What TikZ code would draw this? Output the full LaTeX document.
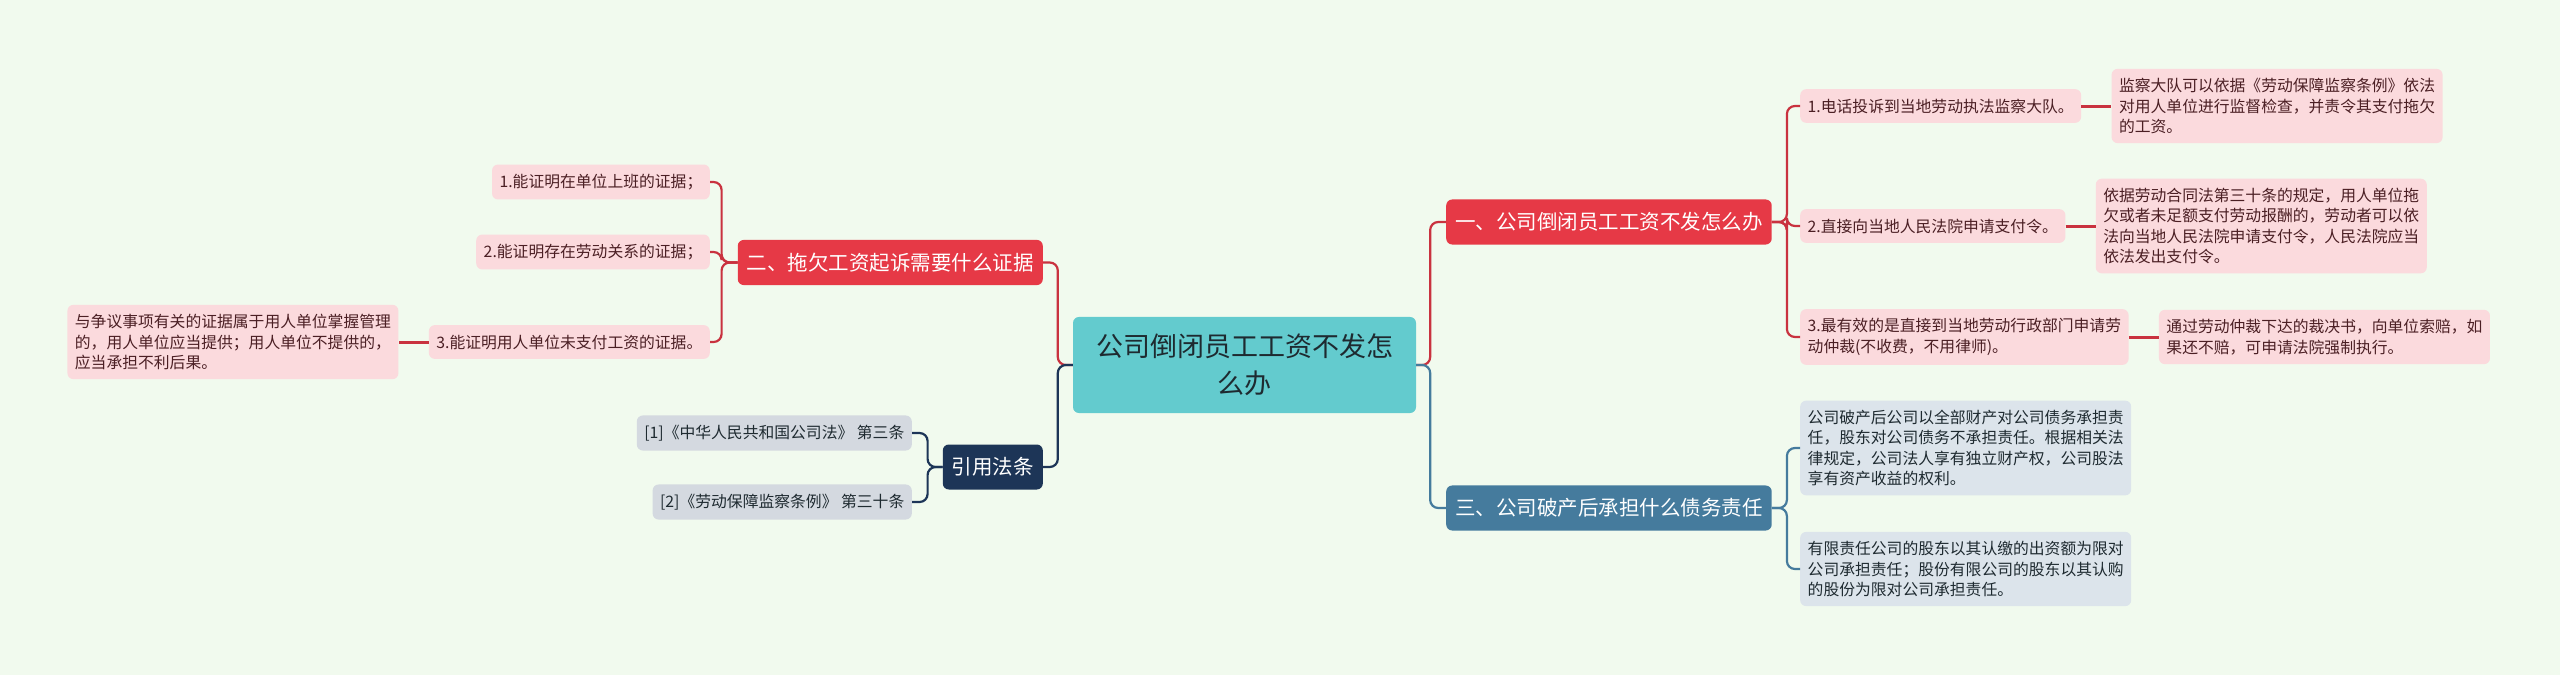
\documentclass[tikz,border=0pt]{standalone}
\usepackage{fontspec}
\setmainfont{Noto Sans CJK SC}
\usetikzlibrary{positioning}
\definecolor{bgmint}{HTML}{F1FAEE}
\definecolor{rootteal}{HTML}{63CBCE}
\definecolor{redhead}{HTML}{E63946}
\definecolor{redwire}{HTML}{C9323F}
\definecolor{pinkleaf}{HTML}{FBDADD}
\definecolor{pinktext}{HTML}{4B1F24}
\definecolor{bluehead}{HTML}{457B9D}
\definecolor{blueleaf}{HTML}{DCE4EB}
\definecolor{navyhead}{HTML}{1D3557}
\definecolor{grayleaf}{HTML}{D4D9E0}
\definecolor{darktext}{HTML}{1E2A30}

\begin{document}
\begin{tikzpicture}[
    x=1pt, y=-1pt,
    node distance=30pt,
    every node/.style={
        rounded corners=6pt,
        align=left
    },
    rootbox/.style={fill=rootteal, text=darktext, align=center,
        inner xsep=23pt, inner ysep=17pt, font=\fontsize{27}{37}\selectfont},
    headbox/.style={text=white, inner xsep=9pt, inner ysep=13pt,
        font=\fontsize{20.5}{26}\selectfont},
    leafbox/.style={inner xsep=7.5pt, inner ysep=9.5pt,
        font=\fontsize{15.8}{20.3}\selectfont},
    pinkbox/.style={leafbox, fill=pinkleaf, text=pinktext},
    bluebox/.style={leafbox, fill=blueleaf, text=darktext},
    graybox/.style={leafbox, fill=grayleaf, text=darktext},
    link/.style={line width=2.2pt, rounded corners=8pt},
    redlink/.style={link, draw=redwire},
    bluelink/.style={link, draw=bluehead},
    navylink/.style={link, draw=navyhead},
    notelink/.style={line width=3pt, draw=redwire}
]
\fill[bgmint] (0,0) rectangle (2560,675);
\useasboundingbox (0,0) rectangle (2560,675);

% --- Centre ---
\node[rootbox] (root) at (1244.5,365) {公司倒闭员工工资不发怎\\么办};

% --- Right side ---
\node[headbox, fill=redhead, anchor=west] (wage) at (1446,222) {一、公司倒闭员工工资不发怎么办};
\node[pinkbox, anchor=west] (wage1) at (1800,106) {1.电话投诉到当地劳动执法监察大队。};
\node[pinkbox] (wage1n) [right=of wage1] {监察大队可以依据《劳动保障监察条例》依法\\对用人单位进行监督检查，并责令其支付拖欠\\的工资。};
\node[pinkbox, anchor=west] (wage2) at (1800,226) {2.直接向当地人民法院申请支付令。};
\node[pinkbox] (wage2n) [right=of wage2] {依据劳动合同法第三十条的规定，用人单位拖\\欠或者未足额支付劳动报酬的，劳动者可以依\\法向当地人民法院申请支付令，人民法院应当\\依法发出支付令。};
\node[pinkbox, anchor=west] (wage3) at (1800,337) {3.最有效的是直接到当地劳动行政部门申请劳\\动仲裁(不收费，不用律师)。};
\node[pinkbox] (wage3n) [right=of wage3] {通过劳动仲裁下达的裁决书，向单位索赔，如\\果还不赔，可申请法院强制执行。};

\node[headbox, fill=bluehead, anchor=west] (debt) at (1446,508) {三、公司破产后承担什么债务责任};
\node[bluebox, anchor=west] (debt1) at (1800,448) {公司破产后公司以全部财产对公司债务承担责\\任，股东对公司债务不承担责任。根据相关法\\律规定，公司法人享有独立财产权，公司股法\\享有资产收益的权利。};
\node[bluebox, anchor=west] (debt2) at (1800,569) {有限责任公司的股东以其认缴的出资额为限对\\公司承担责任；股份有限公司的股东以其认购\\的股份为限对公司承担责任。};

% --- Left side ---
\node[headbox, fill=redhead, anchor=east] (proof) at (1043,262.5) {二、拖欠工资起诉需要什么证据};
\node[pinkbox, anchor=east] (proof1) at (710,182) {1.能证明在单位上班的证据；};
\node[pinkbox, anchor=east] (proof2) at (710,252) {2.能证明存在劳动关系的证据；};
\node[pinkbox, anchor=east] (proof3) at (710,342) {3.能证明用人单位未支付工资的证据。};
\node[pinkbox] (proof3n) [left=of proof3] {与争议事项有关的证据属于用人单位掌握管理\\的，用人单位应当提供；用人单位不提供的，\\应当承担不利后果。};

\node[headbox, fill=navyhead, anchor=east] (law) at (1043,467) {引用法条};
\node[graybox, anchor=east] (law1) at (912,433) {[1]《中华人民共和国公司法》 第三条};
\node[graybox, anchor=east] (law2) at (912,502) {[2]《劳动保障监察条例》 第三十条};

% --- Links ---
\draw[redlink] (root.east) -- ++(14,0) |- (wage.west);
\draw[bluelink] (root.east) -- ++(14,0) |- (debt.west);
\draw[redlink] (root.west) -- ++(-15,0) |- (proof.east);
\draw[navylink] (root.west) -- ++(-15,0) |- (law.east);

\draw[redlink] (wage.east) -- ++(15,0) |- (wage1.west);
\draw[redlink] (wage.east) -- ++(15,0) |- (wage2.west);
\draw[redlink] (wage.east) -- ++(15,0) |- (wage3.west);
\draw[notelink] (wage1.east) -- (wage1n.west);
\draw[notelink] (wage2.east) -- (wage2n.west);
\draw[notelink] (wage3.east) -- (wage3n.west);

\draw[bluelink] (debt.east) -- ++(15,0) |- (debt1.west);
\draw[bluelink] (debt.east) -- ++(15,0) |- (debt2.west);

\draw[redlink] (proof.west) -- ++(-16,0) |- (proof1.east);
\draw[redlink] (proof.west) -- ++(-16,0) |- (proof2.east);
\draw[redlink] (proof.west) -- ++(-16,0) |- (proof3.east);
\draw[notelink] (proof3.west) -- (proof3n.east);

\draw[navylink] (law.west) -- ++(-15,0) |- (law1.east);
\draw[navylink] (law.west) -- ++(-15,0) |- (law2.east);

\end{tikzpicture}
\end{document}
